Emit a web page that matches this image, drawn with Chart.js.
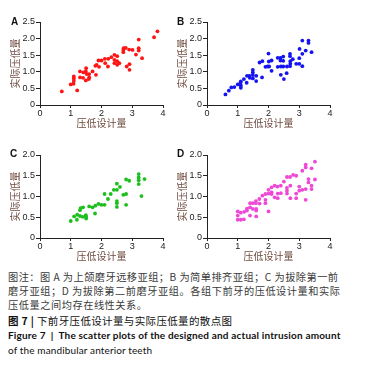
<!DOCTYPE html>
<html>
<head>
<meta charset="utf-8">
<script src="https://cdn.jsdelivr.net/npm/chart.js@4"></script>
<style>
  html, body { margin: 0; padding: 0; background: #fff; }
  #page { position: relative; width: 388px; height: 366px; overflow: hidden; }
  canvas { position: absolute; }
  .letter { position: absolute; font: bold 10px "Liberation Sans", Arial, sans-serif; color: #111; line-height: 12px; }
  .cap { position: absolute; left: 8px; line-height: 14px; white-space: nowrap; font-family: "Noto Sans CJK SC", sans-serif; }
  .note { font-size: 10.2px; color: #3a3a3a; }
  .fig { font-size: 10.5px; color: #111; }
  .en { font-family: Lato, "Open Sans", sans-serif; font-size: 10px; color: #111; }
</style>
</head>
<body>
<div id="page">
  <canvas id="cA" width="170" height="130" style="left:0;top:0"></canvas>
  <canvas id="cB" width="170" height="130" style="left:167px;top:0"></canvas>
  <canvas id="cC" width="170" height="130" style="left:0;top:133px"></canvas>
  <canvas id="cD" width="170" height="130" style="left:167px;top:133px"></canvas>
  <div class="letter" style="left:11px;top:16px">A</div>
  <div class="letter" style="left:177px;top:16px">B</div>
  <div class="letter" style="left:10px;top:148px">C</div>
  <div class="letter" style="left:177px;top:148px">D</div>

  <div class="cap note" data-end="338" style="top:270px">图注：图 A 为上颌磨牙远移亚组；B 为简单排齐亚组；C 为拔除第一前</div>
  <div class="cap note" data-end="340" style="top:284px">磨牙亚组；D 为拔除第二前磨牙亚组。各组下前牙的压低设计量和实际</div>
  <div class="cap note" data-end="147" style="top:298px">压低量之间均存在线性关系。</div>
  <div class="cap fig" data-end="232" style="top:314px"><b>图 7</b> <b>|</b> 下前牙压低设计量与实际压低量的散点图</div>
  <div class="cap en" data-end="340" style="top:328px"><b>Figure 7&nbsp; |&nbsp; The scatter plots of the designed and actual intrusion amount</b></div>
  <div class="cap en" data-end="152" style="top:343px">of the mandibular anterior teeth</div>
</div>
<script>
// Four scatter panels: designed vs actual intrusion of lower anterior teeth.
const X_TICKS = ['0', '1', '2', '3', '4'];
const Y_TICKS_AB = ['0', '0.5', '1.0', '1.5', '2.0', '2.5'];
const Y_TICKS_CD = ['0', '0.5', '1.0', '1.5', '2.0'];
const X_TITLE = '压低设计量';
const Y_TITLE = '实际压低量';

// A — 上颌磨牙远移亚组
const aDesigned = [0.71, 1.21, 1.0, 1.09, 1.1, 1.1, 1.1, 1.3, 1.3, 1.4, 1.41, 1.5, 1.49, 1.52, 1.49,
  1.6, 1.6, 1.59, 1.71, 1.82, 1.8, 1.84, 1.9, 1.92, 2.0, 2.11, 2.12, 2.21, 2.22, 2.32, 2.42, 2.51, 2.42,
  2.51, 2.42, 2.58, 2.51, 2.71, 2.72, 2.71, 2.79, 2.9, 3.01, 2.82, 2.91, 2.91, 3.12, 3.21, 3.21, 3.21,
  3.32, 3.71, 3.82];
const aActual = [0.41, 0.44, 0.62, 0.64, 0.72, 0.80, 0.86, 1.01, 0.83, 0.82, 0.98, 1.11, 1.01, 0.93, 0.74,
  0.93, 0.83, 0.78, 1.01, 0.91, 1.18, 1.21, 1.34, 1.15, 1.34, 1.39, 1.26, 1.16, 1.39, 1.44, 1.51, 1.47, 1.36,
  1.32, 1.26, 1.26, 1.21, 1.59, 1.71, 1.66, 1.72, 1.67, 1.66, 1.16, 1.23, 1.06, 1.52, 1.97, 1.71, 1.64,
  1.41, 2.04, 2.22];

// B — 简单排齐亚组
const bDesigned = [0.6, 0.71, 0.79, 0.89, 1.0, 1.09, 1.1, 1.1, 1.1, 1.2, 1.29, 1.3, 1.38, 1.39, 1.49,
  1.49, 1.49, 1.49, 1.6, 1.6, 1.79, 1.71, 1.8, 1.9, 1.97, 2.0, 2.01, 2.02, 2.1, 2.1, 2.3, 2.3, 2.39, 2.39,
  2.4, 2.4, 2.48, 2.48, 2.48, 2.5, 2.59, 2.6, 2.7, 2.7, 2.71, 2.71, 2.7, 2.79, 2.9, 3.0, 3.01, 3.0, 3.1,
  3.1, 3.1, 3.21, 3.3, 3.3, 3.4];
const bActual = [0.32, 0.43, 0.53, 0.54, 0.62, 0.67, 0.59, 0.52, 0.71, 0.78, 0.67, 0.88, 0.88, 0.82, 1.06,
  0.98, 0.9, 0.8, 0.88, 0.72, 0.83, 1.28, 1.32, 1.15, 1.16, 1.55, 1.31, 1.16, 1.34, 1.03, 1.15, 1.42, 1.42,
  1.34, 1.16, 0.91, 1.46, 1.33, 1.16, 0.78, 0.96, 1.16, 1.54, 1.47, 1.32, 1.24, 1.17, 1.38, 1.24, 1.24,
  1.69, 1.41, 1.54, 1.94, 1.17, 1.64, 1.94, 1.87, 1.59];

// C — 拔除第一前磨牙亚组
const cDesigned = [1.0, 1.11, 1.2, 1.21, 1.3, 1.3, 1.32, 1.39, 1.4, 1.49, 1.5, 1.5, 1.6, 1.71, 1.79, 1.8,
  1.9, 2.0, 2.1, 2.1, 2.21, 2.3, 2.4, 2.5, 2.5, 2.6, 2.5, 2.5, 2.5, 2.71, 2.8, 2.8, 2.9, 2.8, 3.21, 3.21,
  3.21, 3.21, 3.3, 3.4];
const cActual = [0.41, 0.52, 0.44, 0.56, 0.53, 0.67, 0.72, 0.51, 0.74, 0.55, 0.51, 0.47, 0.76, 0.74, 0.59,
  0.78, 0.82, 0.8, 0.8, 1.06, 0.94, 1.06, 1.16, 1.16, 1.31, 1.23, 0.89, 0.84, 0.75, 1.04, 1.06, 1.41, 1.38,
  0.8, 1.54, 1.46, 1.39, 1.3, 1.01, 1.42];

// D — 拔除第二前磨牙亚组
const dDesigned = [1.0, 1.0, 1.0, 1.1, 1.1, 1.2, 1.21, 1.3, 1.3, 1.4, 1.4, 1.4, 1.49, 1.49, 1.59, 1.59,
  1.6, 1.6, 1.6, 1.7, 1.71, 1.8, 1.9, 1.9, 1.9, 2.0, 2.0, 2.0, 2.1, 2.1, 2.1, 2.2, 2.2, 2.29, 2.3, 2.3,
  2.4, 2.4, 2.5, 2.6, 2.6, 2.6, 2.6, 2.7, 2.71, 2.71, 2.8, 2.9, 2.9, 2.9, 3.0, 3.0, 3.1, 3.1, 3.21, 3.21,
  3.21, 3.21, 3.3, 3.3, 3.4, 3.4, 3.4, 3.51, 3.51];
const dActual = [0.64, 0.54, 0.44, 0.61, 0.44, 0.45, 0.63, 0.66, 0.71, 0.74, 0.84, 0.54, 0.84, 0.7, 0.89,
  0.84, 0.7, 0.66, 0.52, 0.94, 0.83, 1.02, 1.06, 0.92, 0.84, 1.16, 1.07, 0.64, 1.22, 1.1, 1.06, 1.26, 0.98,
  1.24, 1.07, 0.96, 1.26, 1.08, 1.36, 1.47, 1.21, 1.14, 1.07, 1.47, 1.26, 0.96, 1.52, 1.5, 1.07, 0.96,
  1.24, 1.14, 1.16, 1.62, 1.18, 0.92, 1.77, 1.7, 1.42, 1.34, 1.68, 1.26, 1.18, 1.84, 1.41];

const AXIS = '#222';
const TITLE_COLOR = '#6e4b3f';
const tickFont = { family: '"Liberation Sans", Arial, sans-serif', size: 9 };
const titleFont = { family: '"Noto Sans CJK SC", sans-serif', size: 10 };

function panel(id, xs, ys, color, yTicks) {
  const yMax = parseFloat(yTicks[yTicks.length - 1]);
  return new Chart(document.getElementById(id), {
    type: 'scatter',
    data: { datasets: [{
      data: xs.map((x, i) => ({ x, y: ys[i] })),
      backgroundColor: color, borderWidth: 0, pointRadius: 1.9,
    }]},
    options: {
      responsive: false, animation: false, devicePixelRatio: 1,
      layout: { padding: { top: 22, right: 7, bottom: 0, left: 0 } },
      plugins: { legend: { display: false }, tooltip: { enabled: false } },
      scales: {
        x: {
          type: 'linear', min: 0, max: 4,
          afterFit: (s) => { s.height = 25; },
          ticks: { stepSize: 1, padding: 0, color: AXIS, font: tickFont, callback: (v) => X_TICKS[v] },
          grid: { drawOnChartArea: false, tickLength: 3, color: AXIS },
          border: { color: AXIS, width: 1 },
          title: { display: true, text: X_TITLE, color: TITLE_COLOR, font: titleFont, padding: { top: 0, bottom: 1 } },
        },
        y: {
          type: 'linear', min: 0, max: yMax,
          afterFit: (s) => { s.width = 40; },
          ticks: { stepSize: 0.5, padding: 1, color: AXIS, font: tickFont, callback: (v) => yTicks[Math.round(v / 0.5)] },
          grid: { drawOnChartArea: false, tickLength: 4, color: AXIS },
          border: { color: AXIS, width: 1 },
          title: { display: true, text: Y_TITLE, color: TITLE_COLOR, font: titleFont, padding: { top: 9, bottom: 0 } },
        },
      },
    },
  });
}

panel('cA', aDesigned, aActual, '#ff1414', Y_TICKS_AB);
panel('cB', bDesigned, bActual, '#1414f0', Y_TICKS_AB);
panel('cC', cDesigned, cActual, '#1cbf1c', Y_TICKS_CD);
panel('cD', dDesigned, dActual, '#ee48d6', Y_TICKS_CD);

// stretch/squeeze caption lines so they end where the printed ones do
function fitCaptions() {
  document.querySelectorAll('.cap').forEach((el) => {
    el.style.letterSpacing = '0px';
    const end = +el.dataset.end;
    const n = el.textContent.length;
    const w = el.getBoundingClientRect().width;
    el.style.letterSpacing = ((end - 8 - w) / (n - 1)).toFixed(3) + 'px';
  });
}
fitCaptions();
document.fonts.ready.then(fitCaptions);
</script>
</body>
</html>
